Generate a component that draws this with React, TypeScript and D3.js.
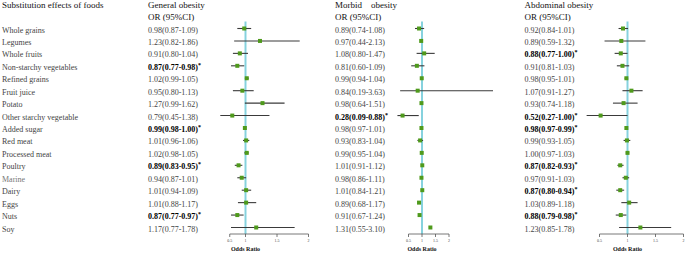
import React from "react";
import * as d3 from "d3";

const foods = ["Whole grains","Legumes","Whole fruits","Non-starchy vegetables","Refined grains","Fruit juice","Potato","Other starchy vegetable","Added sugar","Red meat","Processed meat","Poultry","Marine","Dairy","Eggs","Nuts","Soy"];

const generalOR = [0.98,1.23,0.91,0.87,1.02,0.95,1.27,0.79,0.99,1.01,1.02,0.89,0.94,1.01,1.01,0.87,1.17];
const generalLo = [0.87,0.82,0.80,0.77,0.99,0.80,0.99,0.45,0.98,0.96,0.98,0.83,0.87,0.94,0.88,0.77,0.77];
const generalHi = [1.09,1.86,1.04,0.98,1.05,1.13,1.62,1.38,1.00,1.06,1.05,0.95,1.01,1.09,1.17,0.97,1.78];
const generalSig = [0,0,0,1,0,0,0,0,1,0,0,1,0,0,0,1,0];

const morbidOR = [0.89,0.97,1.08,0.81,0.99,0.84,0.98,0.28,0.98,0.93,0.99,1.01,0.98,1.01,0.89,0.91,1.31];
const morbidLo = [0.74,0.44,0.80,0.60,0.94,0.19,0.64,0.09,0.97,0.83,0.95,0.91,0.86,0.84,0.68,0.67,0.55];
const morbidHi = [1.08,2.13,1.47,1.09,1.04,3.63,1.51,0.88,1.01,1.04,1.04,1.12,1.11,1.21,1.17,1.24,3.10];
const morbidSig = [0,0,0,0,0,0,0,1,0,0,0,0,0,0,0,0,0];
const morbidWhisker = [1,0,1,1,0,1,0,1,0,1,0,0,0,0,0,0,0];

const abdominalOR = [0.92,0.89,0.88,0.91,0.98,1.07,0.93,0.52,0.98,0.99,1.00,0.87,0.97,0.87,1.03,0.88,1.23];
const abdominalLo = [0.84,0.59,0.77,0.81,0.95,0.91,0.74,0.27,0.97,0.93,0.97,0.82,0.91,0.80,0.89,0.79,0.85];
const abdominalHi = [1.01,1.32,1.00,1.03,1.01,1.27,1.18,1.00,0.99,1.05,1.03,0.93,1.03,0.94,1.18,0.98,1.78];
const abdominalSig = [0,0,1,0,0,0,0,1,1,0,0,1,0,1,0,1,0];

const tickLabels = ["0.5","1","1.5","2"];
const generalTicks = [0.75,1,1.5,2];
const otherTicks = [0.5,1,1.5,2];

const FONT = "'Liberation Serif', 'Times New Roman', serif";
const GREEN = "#4f9a1c";
const LINE = "#3a3a3a";
const REF = "#86d2de";

const y = d3.scalePoint<string>().domain(foods).range([28.5, 227.5]);
const axisY = 234;
const refTop = 21.5;

type Panel = {
  title: string;
  textX: number;
  or: number[]; lo: number[]; hi: number[]; sig: number[];
  whisker?: number[];
  x: d3.ScaleLinear<number, number>;
  ticks: number[];
};

const panels: Panel[] = [
  { title: "General obesity", textX: 148, or: generalOR, lo: generalLo, hi: generalHi, sig: generalSig,
    x: d3.scaleLinear().domain([0.6, 2]).range([220.3, 308.5]).clamp(true), ticks: generalTicks },
  { title: "Morbid    obesity", textX: 335, or: morbidOR, lo: morbidLo, hi: morbidHi, sig: morbidSig, whisker: morbidWhisker,
    x: d3.scaleLinear().domain([0.5, 2]).range([408.5, 449]), ticks: otherTicks },
  { title: "Abdominal obesity", textX: 524.5, or: abdominalOR, lo: abdominalLo, hi: abdominalHi, sig: abdominalSig,
    x: d3.scaleLinear().domain([0.5, 2]).range([599.5, 683.5]), ticks: otherTicks },
];

const fmt = (v: number) => v.toFixed(2);

function PanelView({ p }: { p: Panel }) {
  const x = p.x;
  const x1 = x(1);
  return (
    <g>
      <text x={p.textX} y={7.5} fontSize={9} fill="#111" style={{ whiteSpace: "pre" }}>{p.title}</text>
      <text x={p.textX} y={19.5} fontSize={9} fill="#111">OR (95%CI)</text>
      {foods.map((f, i) => {
        const bold = p.sig[i] === 1;
        return (
          <text key={f} x={p.textX} y={(y(f) as number) + 4} fontSize={8}
            fill={bold ? "#000" : "#444"} fontWeight={bold ? "bold" : "normal"}>
            {`${fmt(p.or[i])}(${fmt(p.lo[i])}-${fmt(p.hi[i])})`}
            {bold ? <tspan dy={-3} fontSize={6}>*</tspan> : null}
          </text>
        );
      })}
      <line x1={x1} x2={x1} y1={refTop} y2={axisY} stroke={REF} strokeWidth={2} />
      {foods.map((f, i) => {
        const yy = y(f) as number;
        const show = !p.whisker || p.whisker[i] === 1;
        return (
          <g key={f}>
            {show && <line x1={x(p.lo[i])} x2={x(p.hi[i])} y1={yy} y2={yy} stroke={LINE} strokeWidth={1.1} />}
            <rect x={x(p.or[i]) - 2} y={yy - 2} width={4} height={4} fill={GREEN} />
          </g>
        );
      })}
      <line x1={x(p.ticks[0])} x2={x(p.ticks[p.ticks.length - 1])} y1={axisY} y2={axisY} stroke="#555" strokeWidth={0.8} />
      {p.ticks.map((t, k) => (
        <g key={k}>
          <line x1={x(t)} x2={x(t)} y1={axisY} y2={axisY + 3} stroke="#555" strokeWidth={0.8} />
          <text x={x(t)} y={axisY + 8} fontSize={4} textAnchor="middle" fill="#444">{tickLabels[k]}</text>
        </g>
      ))}
      <text x={x1} y={251} fontSize={6} fontWeight="bold" textAnchor="middle" fill="#111">Odds Ratio</text>
    </g>
  );
}

export default function App() {
  return (
    <svg width={685} height={254} style={{ position: "absolute", left: 0, top: 0, background: "#fff" }}
      fontFamily={FONT}>
      <rect width={685} height={254} fill="#fff" />
      <text x={2} y={7.5} fontSize={9} fill="#111">Substitution effects of foods</text>
      {foods.map((f) => (
        <text key={f} x={2} y={(y(f) as number) + 4} fontSize={8} fill={f === "Marine" ? "#777" : "#444"}>{f}</text>
      ))}
      {panels.map((p) => <PanelView key={p.title} p={p} />)}
    </svg>
  );
}
